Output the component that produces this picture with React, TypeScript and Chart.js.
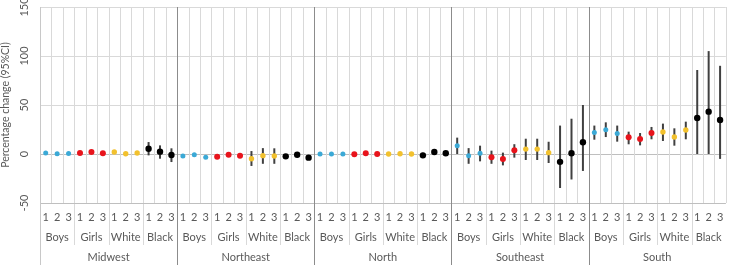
import React, { useEffect, useRef } from "react";
import { Chart, registerables } from "chart.js";
Chart.register(...registerables);

const regions = ["Midwest", "Northeast", "North", "Southeast", "South"];
const groups = ["Boys", "Girls", "White", "Black"];
const periods = ["1", "2", "3"];
const yTicks = [-50, 0, 50, 100, 150];
const yTitle = "Percentage change (95%CI)";

// values per group: 5 regions x 3 periods
const boysMean = [1, 0.3, 0.5, -2, -0.7, -3.4, 0, 0, 0, 8.5, -1.7, 0.7, 22, 24.8, 21];
const boysLow = [0, -0.7, -0.5, -3.5, -2, -5, -1, -1, -1, 0, -10, -7.5, 14.6, 17.3, 12.6];
const boysHigh = [2, 1.3, 1.5, -0.5, 0.6, -1.8, 1, 1, 1, 16.7, 6, 8.5, 29, 32.3, 29];

const girlsMean = [1, 2, 0.7, -2.7, -0.7, -1.7, -0.3, 0.7, 0, -3.4, -5, 3.7, 17, 15.3, 21.4];
const girlsLow = [-0.5, 0.5, -0.8, -4.2, -2.2, -3.2, -1.3, -0.3, -1, -10, -11.6, -3.7, 9.9, 8.8, 15];
const girlsHigh = [2.5, 3.5, 2.2, -1.2, 0.8, -0.2, 0.7, 1.7, 1, 3.4, 1.4, 10, 22.8, 21.4, 27.6];

const whiteMean = [2, 0.3, 1, -4.8, -1.7, -2, 0, 0.3, 0, 5, 5, 1.4, 22.4, 17.3, 24.5];
const whiteLow = [1, -0.5, 0.2, -12.2, -10, -10, -0.8, -0.5, -0.8, -6.1, -6.1, -9.2, 13.3, 8.5, 15];
const whiteHigh = [3, 1.1, 1.8, 3, 6, 5.8, 0.8, 1.1, 0.8, 15.6, 15.6, 12.5, 31, 26.2, 33];

const blackMean = [5.4, 2.4, -1, -2.4, -0.7, -3.7, -1.4, 2, 0.7, -8, 0.7, 12, 36.7, 43.2, 34.7];
const blackLow = [-1.4, -4.8, -8.2, -4, -2.2, -5.2, -4, 0, -1, -34.7, -26, -17.3, 0, 0, -5];
const blackHigh = [12.2, 8.8, 5.8, -0.8, 0.8, -2.2, 1.2, 4, 2.4, 29, 36, 50, 85.7, 105, 90];

const groupColors = ["#3ba9d6", "#e8141c", "#f2c12e", "#000000"];
const groupRadius = [2.5, 3, 2.7, 3.2];

const seriesMeans = [boysMean, girlsMean, whiteMean, blackMean];
const seriesLows = [boysLow, girlsLow, whiteLow, blackLow];
const seriesHighs = [boysHigh, girlsHigh, whiteHigh, blackHigh];

const perRegion = groups.length * periods.length;
const N = regions.length * perRegion;
const labels: string[] = [];
regions.forEach((r) => groups.forEach((g) => periods.forEach((p) => labels.push(`${r}|${g}|${p}`))));

function spread(gi: number, vals: number[]) {
  const arr: (number | null)[] = new Array(N).fill(null);
  for (let r = 0; r < regions.length; r++) {
    for (let p = 0; p < periods.length; p++) {
      arr[r * perRegion + gi * periods.length + p] = vals[r * periods.length + p];
    }
  }
  return arr;
}

const FONT = "Lato, 'Open Sans', sans-serif";
const TEXT = "#595959";

const decorPlugin = {
  id: "decor",
  beforeDatasetsDraw(chart: any) {
    const { ctx, chartArea, scales } = chart;
    const x = scales.x;
    const y = scales.y;
    const H = chart.height;
    const colW = (chartArea.right - chartArea.left) / N;
    const edge = (i: number) => x.getPixelForValue(i) - colW / 2;
    ctx.save();
    // light column lines
    for (let i = 1; i <= N; i++) {
      if (i % perRegion === 0 && i < N) continue;
      const px = Math.round(edge(i)) + 0.5;
      ctx.strokeStyle = "#d9d9d9";
      ctx.lineWidth = 1;
      ctx.beginPath();
      ctx.moveTo(px, chartArea.top);
      const bottom = i % periods.length === 0 && i < N ? 245 : chartArea.bottom;
      ctx.lineTo(px, bottom);
      ctx.stroke();
    }
    // bottom axis line
    ctx.strokeStyle = "#bfbfbf";
    ctx.beginPath();
    const by = Math.round(y.getPixelForValue(-50)) + 0.5;
    ctx.moveTo(chartArea.left, by);
    ctx.lineTo(chartArea.right, by);
    ctx.stroke();
    // left axis line
    ctx.strokeStyle = "#c8c8c8";
    ctx.beginPath();
    const lx = Math.round(chartArea.left) + 0.5;
    ctx.moveTo(lx, chartArea.top);
    ctx.lineTo(lx, H);
    ctx.stroke();
    // region lines
    ctx.strokeStyle = "#8c8c8c";
    for (let r = 1; r < regions.length; r++) {
      const px = Math.round(edge(r * perRegion)) + 0.5;
      ctx.beginPath();
      ctx.moveTo(px, chartArea.top);
      ctx.lineTo(px, H);
      ctx.stroke();
    }
    // error bars
    ctx.strokeStyle = "#404040";
    ctx.lineWidth = 2;
    for (let g = 0; g < groups.length; g++) {
      const lo = spread(g, seriesLows[g]);
      const hi = spread(g, seriesHighs[g]);
      for (let i = 0; i < N; i++) {
        if (lo[i] == null) continue;
        const px = x.getPixelForValue(i);
        ctx.beginPath();
        ctx.moveTo(px, y.getPixelForValue(lo[i]));
        ctx.lineTo(px, y.getPixelForValue(hi[i]));
        ctx.stroke();
      }
    }
    // category labels
    ctx.fillStyle = TEXT;
    ctx.textAlign = "center";
    ctx.textBaseline = "middle";
    ctx.font = `11px ${FONT}`;
    for (let i = 0; i < N; i++) {
      ctx.fillText(periods[i % periods.length], x.getPixelForValue(i), 217);
    }
    for (let r = 0; r < regions.length; r++) {
      for (let g = 0; g < groups.length; g++) {
        const start = r * perRegion + g * periods.length;
        const cx = (x.getPixelForValue(start) + x.getPixelForValue(start + periods.length - 1)) / 2;
        ctx.fillText(groups[g], cx, 237);
      }
      const cx = (x.getPixelForValue(r * perRegion) + x.getPixelForValue(r * perRegion + perRegion - 1)) / 2;
      ctx.fillText(regions[r], cx, 257);
    }
    // y tick labels rotated
    for (const t of yTicks) {
      ctx.save();
      ctx.translate(24, y.getPixelForValue(t));
      ctx.rotate(-Math.PI / 2);
      ctx.fillText(String(t), 0, 0);
      ctx.restore();
    }
    ctx.save();
    ctx.font = `10.5px ${FONT}`;
    ctx.translate(6, (chartArea.top + chartArea.bottom) / 2);
    ctx.rotate(-Math.PI / 2);
    ctx.fillText(yTitle, 0, 0);
    ctx.restore();
    ctx.restore();
  },
};

export default function App() {
  const ref = useRef<HTMLCanvasElement | null>(null);
  useEffect(() => {
    if (!ref.current) return;
    const chart = new Chart(ref.current, {
      type: "line",
      data: {
        labels,
        datasets: groups.map((g, gi) => ({
          label: g,
          data: spread(gi, seriesMeans[gi]),
          showLine: false,
          pointRadius: groupRadius[gi],
          pointHoverRadius: groupRadius[gi],
          pointBackgroundColor: groupColors[gi],
          pointBorderColor: groupColors[gi],
          pointBorderWidth: 0,
          borderColor: groupColors[gi],
          backgroundColor: groupColors[gi],
        })),
      },
      options: {
        animation: false,
        responsive: false,
        events: [],
        layout: { padding: { top: 7, right: 2, left: 0, bottom: 0 } },
        plugins: { legend: { display: false }, tooltip: { enabled: false } },
        scales: {
          x: {
            type: "category",
            offset: true,
            grid: { display: false },
            border: { display: false },
            ticks: { display: false },
            afterFit: (s: any) => {
              s.height = 62;
            },
          },
          y: {
            min: -50,
            max: 150,
            ticks: { display: false, stepSize: 50 },
            border: { display: false },
            grid: {
              color: (c: any) => (c.tick && c.tick.value === 0 ? "#bfbfbf" : "#d9d9d9"),
              drawTicks: false,
            },
            afterFit: (s: any) => {
              s.width = 40;
            },
          },
        },
      },
      plugins: [decorPlugin],
    });
    return () => chart.destroy();
  }, []);
  return (
    <div style={{ position: "absolute", left: 0, top: 0, width: 729, height: 265, background: "#fff" }}>
      <canvas ref={ref} width={729} height={265} style={{ width: 729, height: 265 }} />
    </div>
  );
}
